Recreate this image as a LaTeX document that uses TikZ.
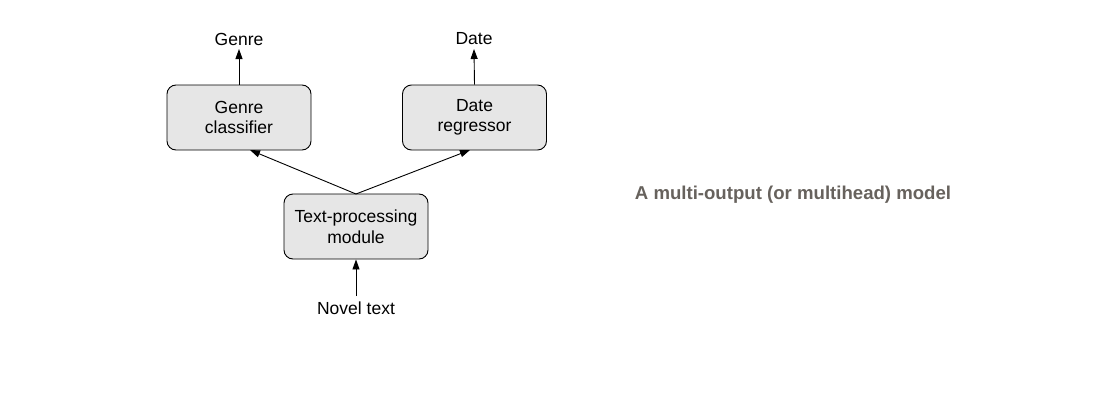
\documentclass[tikz,border=0pt]{standalone}
\usepackage{fontspec}
\setmainfont{Liberation Sans}
\usetikzlibrary{arrows.meta}
\definecolor{boxfill}{HTML}{E6E6E6}
\definecolor{capgray}{HTML}{67625D}
\begin{document}
\begin{tikzpicture}[x=1pt,y=-1pt,
  box/.style={draw=black, line width=0.9pt, fill=boxfill, rounded corners=9pt,
    minimum width=144pt, minimum height=65pt, align=center, inner sep=0pt,
    font=\fontsize{17.5}{20.5}\selectfont},
  lbl/.style={font=\fontsize{17.5}{20.5}\selectfont, inner sep=0pt},
  arr/.style={-{Triangle[length=10pt,width=7pt]}, line width=0.9pt}]
\useasboundingbox (0,0) rectangle (1112,407);
\node[box] (gc) at (239,117.5) {Genre\\classifier};
\node[box] (dr) at (474.5,117.5) {Date\\regressor};
\node[box] (tp) at (356,226.5) {Text-processing\\module};
\node[lbl] (genre) at (239,39) {Genre};
\node[lbl] (date) at (474,39) {Date};
\node[lbl] (novel) at (356,308) {Novel text};
\coordinate (tptop) at (356,194);
\coordinate (gcend) at (250,150);
\coordinate (drend) at (470,150);
\draw[arr] (gc.north) -- (239,49);
\draw[arr] (dr.north) -- (474,49);
\draw[arr] (tptop) -- (gcend);
\draw[arr] (tptop) -- (drend);
\draw[arr] (356,296) -- (tp.south);
\node[font=\bfseries\fontsize{18.6}{22}\selectfont, text=capgray, inner sep=0pt] (cap) at (793,195) {A multi-output (or multihead) model};
\end{tikzpicture}
\end{document}
